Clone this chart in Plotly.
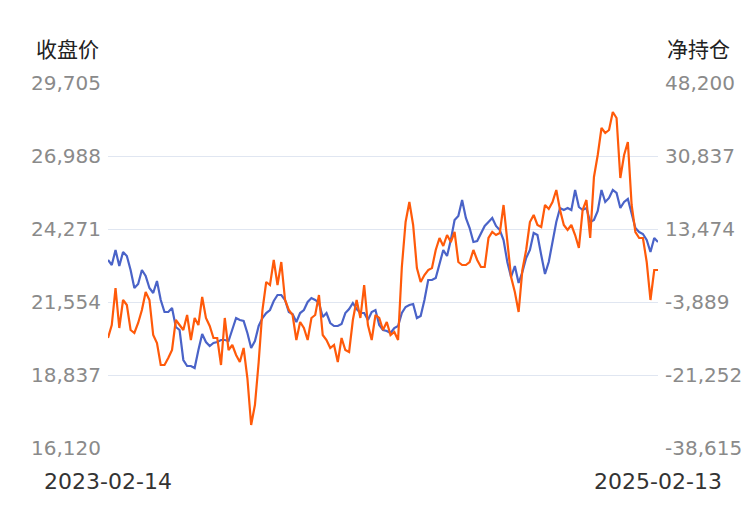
import pandas as pd
import plotly.graph_objects as go

start_date = "2023-02-14"
end_date = "2025-02-13"
dates = pd.date_range(start_date, end_date, freq="5D")

close_price = [
    23117, 22931, 23489, 22894, 23415, 23266, 22745, 22075, 22224, 22745,
    22522, 22075, 21889, 22335, 21628, 21182, 21182, 21330, 20623, 20512,
    19395, 19172, 19172, 19097, 19767, 20363, 20065, 19916, 20028, 20065,
    20139, 20139, 20102, 20512, 20958, 20884, 20847, 20400, 19842, 20102,
    20661, 20958, 21144, 21256, 21591, 21814, 21814, 21628, 21182, 21107,
    20809, 21144, 21256, 21554, 21703, 21628, 21517, 20996, 21144, 20772,
    20661, 20661, 20735, 21144, 21293, 21517, 21293, 21144, 21144, 20884,
    21182, 21256, 20698, 20512, 20474, 20400, 20586, 20661, 21144, 21368,
    21442, 21479, 20958, 21033, 21628, 22373, 22373, 22447, 22931, 23489,
    23266, 23861, 24606, 24755, 25350, 24680, 24308, 23787, 23824, 24122,
    24383, 24531, 24680, 24383, 24234, 23861, 23043, 22484, 22894, 22261,
    22670, 23191, 23489, 24122, 24048, 23303, 22596, 23043, 23861, 24531,
    25052, 24978, 25052, 24978, 25722, 25090, 24978, 25052, 24531, 24606,
    24941, 25722, 25276, 25425, 25722, 25611, 25052, 25276, 25387, 24792,
    24308, 24159, 24085, 23861, 23415, 23936, 23787,
]

net_position = [
    -12452, -9360, -559, -10073, -3413, -4603, -10549, -11263, -8884, -5792,
    -1511, -3413, -11738, -13641, -18874, -18874, -17209, -15306, -8170, -9360,
    -10549, -6981, -12927, -7695, -9360, -2700, -7695, -9598, -12452, -12452,
    -18874, -7695, -15306, -14117, -16495, -18160, -14830, -21966, -33145, -28388,
    -18160, -5792, 868, 154, 6101, 154, 5625, -3413, -5792, -6981,
    -12927, -8646, -10073, -12927, -7695, -6981, -2224, -11738, -12927, -14830,
    -14117, -18160, -12452, -15306, -15782, -8170, -3413, -7695, 154, -9360,
    -12927, -6981, -7695, -10549, -8646, -11738, -11025, -12927, 4436, 15139,
    19896, 14425, 4198, 868, 2533, 3722, 4198, 8479, 11333, 9430,
    12047, 10382, 12760, 5625, 4911, 4911, 5625, 8479, 6101, 4436,
    4436, 11333, 12760, 12047, 12522, 19182, 10144, 2057, -1511, -6268,
    3722, 8479, 15139, 16804, 14425, 13950, 19182, 18231, 19896, 22750,
    17993, 14425, 13236, 14425, 12047, 8955, 17993, 20372, 11333, 25842,
    31075, 37497, 36307, 37021, 41302, 39875, 25604, 31075, 34167, 19182,
    12760, 11333, 11333, 5625, -3413, 3722, 3722,
]

left_ticks = [16120, 18837, 21554, 24271, 26988, 29705]
right_ticks = [-38615, -21252, -3889, 13474, 30837, 48200]
left_tick_text = ["16,120", "18,837", "21,554", "24,271", "26,988", "29,705"]
right_tick_text = ["-38,615", "-21,252", "-3,889", "13,474", "30,837", "48,200"]
left_title = "收盘价"
right_title = "净持仓"

fig = go.Figure()
fig.add_trace(go.Scatter(
    x=dates, y=close_price, mode="lines", name="收盘价",
    line=dict(color="#4a63c8", width=2.2), yaxis="y",
))
fig.add_trace(go.Scatter(
    x=dates, y=net_position, mode="lines", name="净持仓",
    line=dict(color="#ff5a0a", width=2.2), yaxis="y2",
))

tick_font = dict(family="DejaVu Sans", size=20, color="#8a8a8a")

# page body has an 8px default margin; size the figure to fit the window
fig.update_layout(
    width=742, height=502,
    margin=dict(l=100, r=92, t=75, b=62, autoexpand=False),
    paper_bgcolor="white", plot_bgcolor="white",
    showlegend=False,
    xaxis=dict(
        type="date",
        range=[dates[0], dates[-1]],
        tickvals=[dates[0], dates[-1]],
        ticktext=[start_date, end_date],
        showgrid=False, zeroline=False, showline=False,
        ticks="outside", ticklen=14, tickcolor="rgba(0,0,0,0)",
        tickfont=dict(family="DejaVu Sans", size=22, color="#333333"),
        automargin=False,
    ),
    yaxis=dict(
        range=[left_ticks[0], left_ticks[-1]],
        tickvals=left_ticks,
        ticktext=left_tick_text,
        showgrid=True, gridcolor="#e0e6f1", gridwidth=1,
        zeroline=False, showline=False,
        ticks="outside", ticklen=2, tickcolor="rgba(0,0,0,0)",
        tickfont=tick_font,
        automargin=False,
    ),
    yaxis2=dict(
        range=[right_ticks[0], right_ticks[-1]],
        tickvals=right_ticks,
        ticktext=right_tick_text,
        overlaying="y", side="right",
        showgrid=False, zeroline=False, showline=False,
        ticks="outside", ticklen=2, tickcolor="rgba(0,0,0,0)",
        tickfont=tick_font,
        automargin=False,
    ),
    annotations=[
        dict(text=left_title, xref="paper", yref="paper",
             x=-0.0745, y=1.096, xanchor="center", yanchor="middle",
             showarrow=False,
             font=dict(family="Noto Sans CJK SC", size=21, color="#222222")),
        dict(text=right_title, xref="paper", yref="paper",
             x=1.0745, y=1.096, xanchor="center", yanchor="middle",
             showarrow=False,
             font=dict(family="Noto Sans CJK SC", size=21, color="#222222")),
    ],
)

fig.write_html("out.html")
